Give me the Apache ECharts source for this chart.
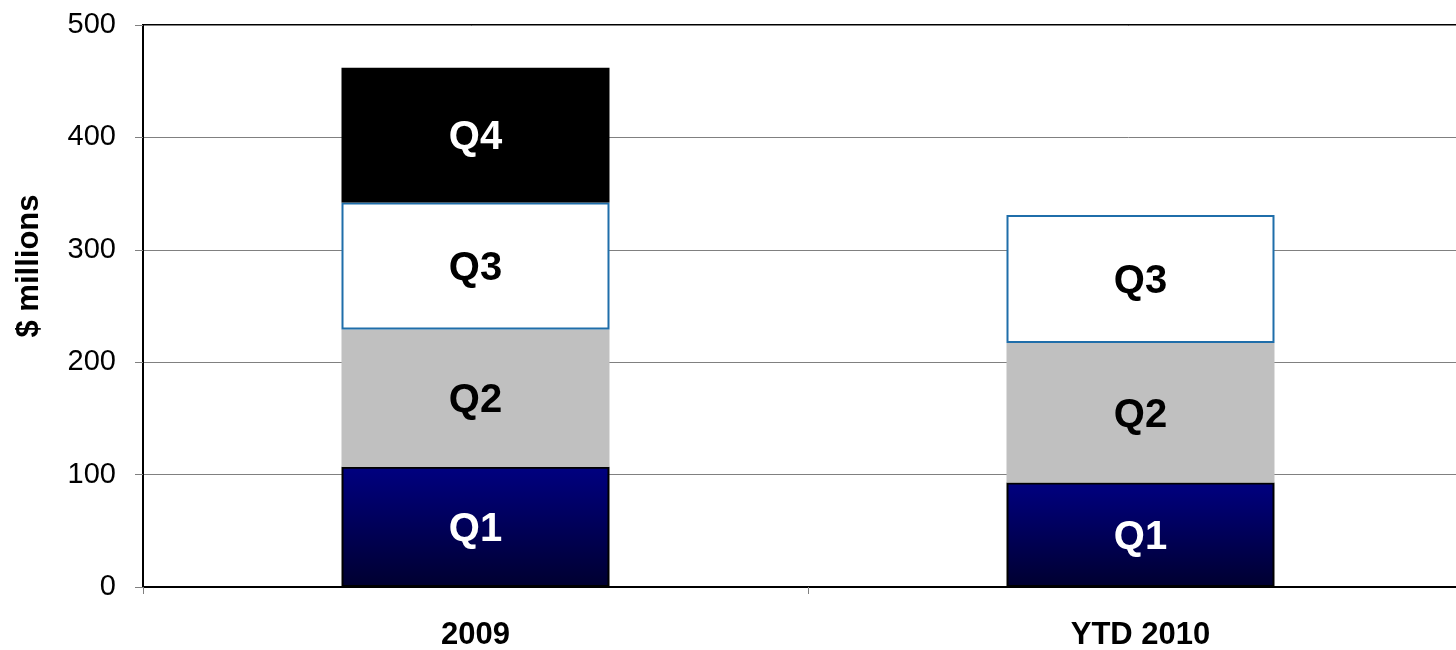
<!DOCTYPE html>
<html>
<head>
<meta charset="utf-8">
<script src="https://cdn.jsdelivr.net/npm/echarts@6/dist/echarts.min.js"></script>
<style>html,body{margin:0;padding:0;background:#fff}#c{width:1456px;height:650px}</style>
</head>
<body>
<div id="c"></div>
<script>
const categories = ['2009', 'YTD 2010'];
const q1 = [107, 93];
const q2 = [122, 124];
const q3 = [113, 114];
const q4 = [120, null];
const yTicks = { min: 0, max: 500, interval: 100 };

const FONT = '"Liberation Sans", Arial, sans-serif';
const chart = echarts.init(document.getElementById('c'), null, { renderer: 'canvas' });

function lbl(name, color) {
  return {
    show: true, position: 'inside', formatter: name, offset: [0, 3],
    color: color, fontFamily: FONT, fontWeight: 'bold', fontSize: 40
  };
}

chart.setOption({
  animation: false,
  backgroundColor: '#fff',
  grid: {
    left: 143, top: 25, width: 1330, height: 562,
    outerBoundsMode: 'none', containLabel: false,
    show: true, borderColor: '#000', borderWidth: 2, backgroundColor: 'transparent'
  },
  xAxis: {
    type: 'category', data: categories,
    axisLine: { show: true, lineStyle: { color: '#000', width: 2 } },
    axisTick: { show: true, alignWithLabel: false, length: 7, lineStyle: { color: '#808080', width: 1 } },
    axisLabel: { color: '#000', fontFamily: FONT, fontWeight: 'bold', fontSize: 31, margin: 33 },
    splitLine: { show: false }
  },
  yAxis: {
    type: 'value', min: yTicks.min, max: yTicks.max, interval: yTicks.interval,
    name: '$ millions', nameLocation: 'middle', nameGap: 98,
    nameTextStyle: { color: '#000', fontFamily: FONT, fontWeight: 'bold', fontSize: 31, padding: [0, 0, 0, 80] },
    axisLine: { show: true, lineStyle: { color: '#000', width: 2 } },
    axisTick: { show: true, length: 8, lineStyle: { color: '#808080', width: 1 } },
    axisLabel: { color: '#000', fontFamily: FONT, fontSize: 29, margin: 27 },
    splitLine: { show: true, lineStyle: { color: '#808080', width: 1 } }
  },
  series: [
    {
      name: 'Q1', type: 'bar', stack: 's', data: q1, barWidth: '40.3%',
      itemStyle: {
        color: new echarts.graphic.LinearGradient(0, 0, 0, 1, [
          { offset: 0, color: '#000080' }, { offset: 1, color: '#000030' }
        ]),
        borderColor: '#000', borderWidth: 2
      },
      label: lbl('Q1', '#fff')
    },
    {
      name: 'Q2', type: 'bar', stack: 's', data: q2,
      itemStyle: { color: '#C0C0C0' },
      label: lbl('Q2', '#000')
    },
    {
      name: 'Q3', type: 'bar', stack: 's', data: q3,
      itemStyle: { color: '#fff', borderColor: '#1F6EAA', borderWidth: 2 },
      label: lbl('Q3', '#000')
    },
    {
      name: 'Q4', type: 'bar', stack: 's', data: q4,
      itemStyle: { color: '#000' },
      label: lbl('Q4', '#fff')
    }
  ]
});
</script>
</body>
</html>
